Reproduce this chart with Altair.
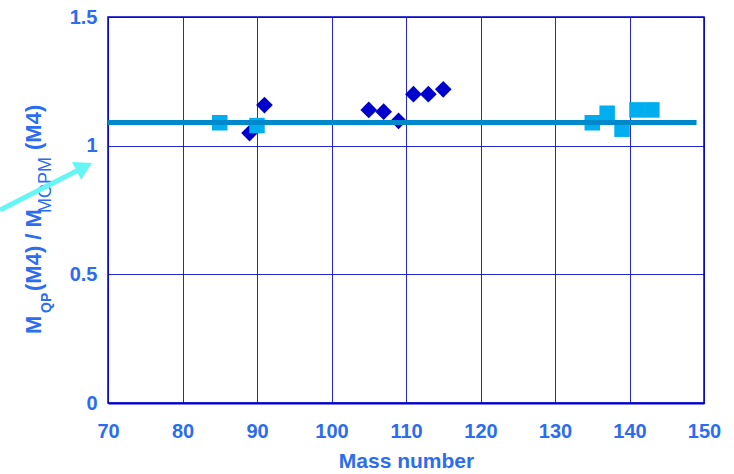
import altair as alt
import pandas as pd

# Mass numbers and mass ratios, two nuclide groups
mass_diamond = [89, 91, 105, 107, 109, 111, 113, 115]
ratio_diamond = [1.049, 1.158, 1.139, 1.132, 1.096, 1.200, 1.200, 1.219]
mass_square = [85, 90, 135, 137, 139, 141, 143]
ratio_square = [1.089, 1.078, 1.089, 1.126, 1.064, 1.139, 1.139]

# Mean ratio drawn as a horizontal line across the mass range
mean_ratio = 1.09
mean_from, mean_to = 70, 149

# Axis ticks
x_ticks = [70, 80, 90, 100, 110, 120, 130, 140, 150]
y_ticks = [0, 0.5, 1, 1.5]

# Pointer arrow (shaft end points and head) in data units
arrow_mass = [55.5, 66.3]
arrow_ratio = [0.75, 0.909]
head_mass, head_ratio = 66.82, 0.9175

FONT = "Liberation Sans, Arial, sans-serif"
TEXT_BLUE = "#2B6CF0"
GRID_BLUE = "#0000CC"

xs = alt.Scale(domain=[70, 150], nice=False, zero=False)
ys = alt.Scale(domain=[0, 1.5], nice=False, zero=False)

x_axis = alt.Axis(
    values=x_ticks, title="Mass number", grid=True, ticks=False,
    labelPadding=18, titlePadding=9, domain=True, labelFlush=False,
    domainColor=GRID_BLUE, domainWidth=2,
)
y_axis = alt.Axis(
    values=y_ticks, title=None, grid=True, ticks=False, format="~g",
    labelPadding=11, domain=False, labelFlush=False,
)

def X(field):
    return alt.X(field, type="quantitative", scale=xs, axis=x_axis)

def Y(field):
    return alt.Y(field, type="quantitative", scale=ys, axis=y_axis)

diamonds = alt.Chart(pd.DataFrame({"mass": mass_diamond, "ratio": ratio_diamond})).mark_point(
    shape="diamond", filled=True, opacity=1, size=280, color="#0000CC"
).encode(x=X("mass"), y=Y("ratio"))

squares = alt.Chart(pd.DataFrame({"mass": mass_square, "ratio": ratio_square})).mark_point(
    shape="square", filled=True, opacity=1, size=240, color="#00AEEF"
).encode(x=X("mass"), y=Y("ratio"))

mean_line = alt.Chart(pd.DataFrame({"m0": [mean_from], "m1": [mean_to], "r": [mean_ratio]})).mark_rule(
    color="#0088CC", strokeWidth=5
).encode(x=X("m0"), x2="m1", y=Y("r"))

arrow_shaft = alt.Chart(pd.DataFrame({"mass": arrow_mass, "ratio": arrow_ratio})).mark_line(
    color="#66F5F5", strokeWidth=5, clip=False
).encode(x=X("mass"), y=Y("ratio"))

arrow_head = alt.Chart(pd.DataFrame({"mass": [head_mass], "ratio": [head_ratio]})).mark_point(
    shape="triangle-up", filled=True, opacity=1, size=400, angle=63, color="#66F5F5", clip=False
).encode(x=X("mass"), y=Y("ratio"))

# Rotated y-axis title built from pieces so the subscripts sit lower
def title_piece(text, x, y, size, weight):
    return alt.Chart(alt.Data(values=[{}])).mark_text(
        text=text, angle=270, align="left", baseline="alphabetic",
        font=FONT, fontSize=size, fontWeight=weight, color=TEXT_BLUE,
    ).encode(x=alt.value(x), y=alt.value(y))

title_layers = [
    title_piece("M", -67, 317, 22, "bold"),
    title_piece("QP", -57, 296, 14, "bold"),
    title_piece("(M4) / M", -67, 274, 22, "bold"),
    title_piece("MOPM", -57, 196, 18, "normal"),
    title_piece("(M4)", -67, 133, 22, "bold"),
]

chart = alt.layer(
    diamonds, squares, mean_line, *title_layers, arrow_shaft, arrow_head
).properties(
    width=596, height=386,
    padding={"left": 108, "top": 17, "right": 30, "bottom": 71},
    autosize=alt.AutoSizeParams(type="none"),
).configure_view(
    stroke=GRID_BLUE, strokeWidth=1.5
).configure_axis(
    gridColor=GRID_BLUE, gridWidth=1, gridOpacity=0.85,
    labelFont=FONT, labelFontSize=20, labelFontWeight="bold", labelColor=TEXT_BLUE,
    titleFont=FONT, titleFontSize=21, titleFontWeight="bold", titleColor=TEXT_BLUE,
)

chart.save("out.html", embed_options={"renderer": "svg", "actions": False})
